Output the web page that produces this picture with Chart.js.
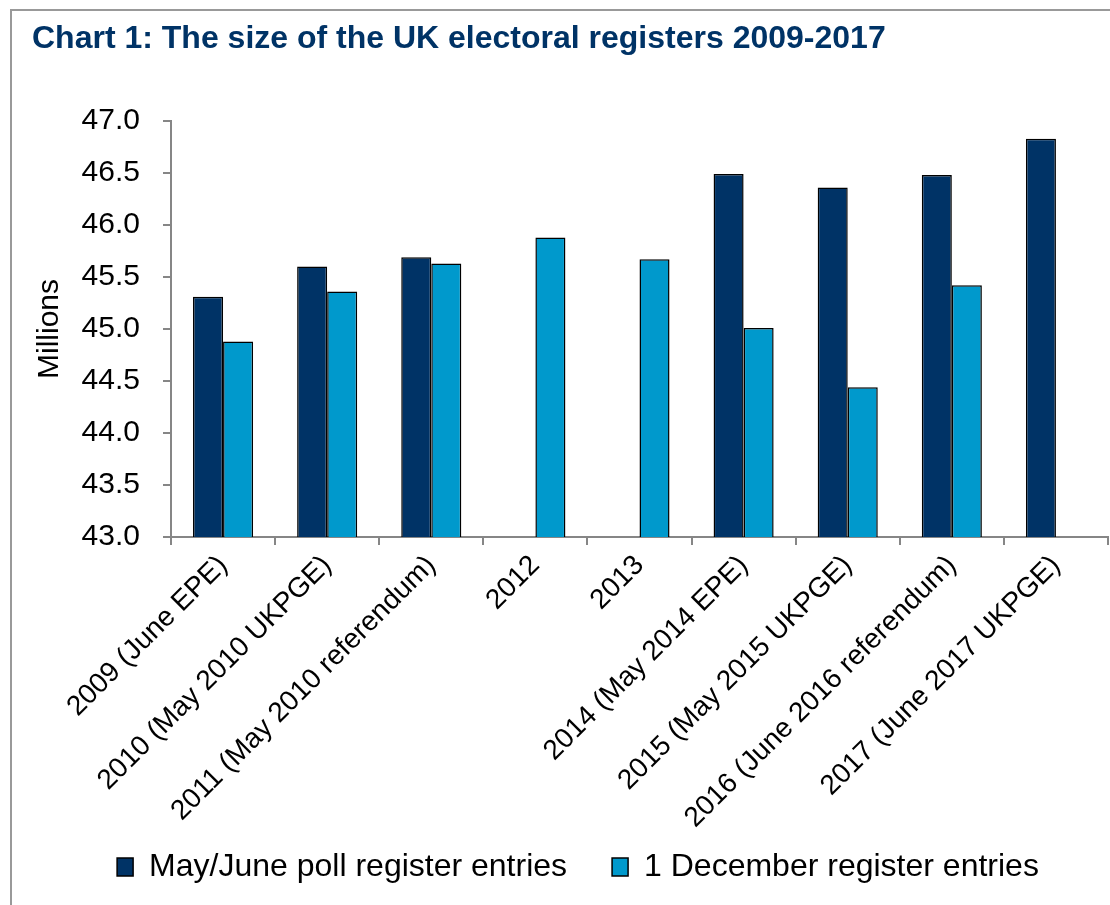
<!DOCTYPE html>
<html>
<head>
<meta charset="utf-8">
<script src="https://cdn.jsdelivr.net/npm/chart.js@4"></script>
<style>
  body { margin: 0; background: #fff; overflow: hidden; }
  #wrap { position: relative; width: 1110px; height: 905px; }
  #frame { position: absolute; left: 10px; top: 9px; width: 1200px; height: 1000px; border: 2px solid #999; }
  #title { position: absolute; left: 32px; top: 21px; font: bold 32px "Liberation Sans", Arial, sans-serif; line-height: 1; color: #003366; white-space: nowrap; }
  canvas { position: absolute; left: 0; top: 0; }
</style>
</head>
<body>
<div id="wrap">
  <canvas id="chartArea" width="1110" height="905"></canvas>
  <div id="frame"></div>
  <div id="title">Chart 1: The size of the UK electoral registers 2009-2017</div>
</div>
<script>
var categories = ['2009 (June EPE)', '2010 (May 2010 UKPGE)', '2011 (May 2010 referendum)', '2012', '2013',
  '2014 (May 2014 EPE)', '2015 (May 2015 UKPGE)', '2016 (June 2016 referendum)', '2017 (June 2017 UKPGE)']
// millions of entries
var pollEntries = [45.31, 45.60, 45.69, null, null, 46.49, 46.36, 46.48, 46.83]
var decemberEntries = [44.88, 45.36, 45.63, 45.88, 45.67, 45.01, 44.44, 45.42, null]
var yMin = 43.0, yMax = 47.0, yStep = 0.5

var fontFamily = '"Liberation Sans", Arial, sans-serif'
var axisGrey = '#868686'

// the legend has wide padding, so let the x axis box reach down under it
// otherwise the long rotated labels get clipped
var stretchXAxis = {
  id: 'stretchXAxis',
  afterLayout: function(chart) {
    var xs = chart.scales.x
    xs.bottom += 34
    xs.height += 34
  }
}

var ctx = document.getElementById('chartArea').getContext('2d')
var myChart = new Chart(ctx, {
  type: 'bar',
  data: {
    labels: categories,
    datasets: [
      {
        label: 'May/June poll register entries',
        data: pollEntries,
        backgroundColor: '#003366',
        borderColor: '#000000',
        borderWidth: 1.5
      },
      {
        label: '1 December register entries',
        data: decemberEntries,
        backgroundColor: '#0099cc',
        borderColor: '#000000',
        borderWidth: 1.5
      }
    ]
  },
  plugins: [stretchXAxis],
  options: {
    responsive: false,
    animation: false,
    devicePixelRatio: 1,
    layout: { padding: { left: 48, right: 2, top: 121, bottom: 12 } },
    datasets: { bar: { categoryPercentage: 0.577, barPercentage: 1.0 } },
    plugins: {
      title: { display: false },
      tooltip: { enabled: false },
      legend: {
        position: 'bottom',
        labels: {
          boxWidth: 16,
          boxHeight: 18,
          padding: 45,
          color: '#000',
          font: { family: fontFamily, size: 32 }
        }
      }
    },
    scales: {
      x: {
        grid: { display: true, drawOnChartArea: false, drawTicks: true, tickLength: 8, color: axisGrey, lineWidth: 2 },
        border: { display: true, color: axisGrey, width: 2 },
        ticks: {
          autoSkip: false,
          minRotation: 45,
          maxRotation: 45,
          padding: 4,
          color: '#000',
          font: { family: fontFamily, size: 28 }
        },
        afterFit: function(scale) { scale.height = 269 }
      },
      y: {
        min: yMin,
        max: yMax,
        grid: { display: true, drawOnChartArea: false, drawTicks: true, tickLength: 8, color: axisGrey, lineWidth: 2 },
        border: { display: true, color: axisGrey, width: 2 },
        ticks: {
          stepSize: yStep,
          padding: 23,
          color: '#000',
          font: { family: fontFamily, size: 30 },
          callback: function(v) { return Number(v).toFixed(1) }
        },
        title: {
          display: true,
          text: 'Millions',
          color: '#000',
          padding: { top: -16, bottom: 0 },
          font: { family: fontFamily, size: 30 }
        },
        afterFit: function(scale) { scale.width = 123 }
      }
    }
  }
})
</script>
</body>
</html>
